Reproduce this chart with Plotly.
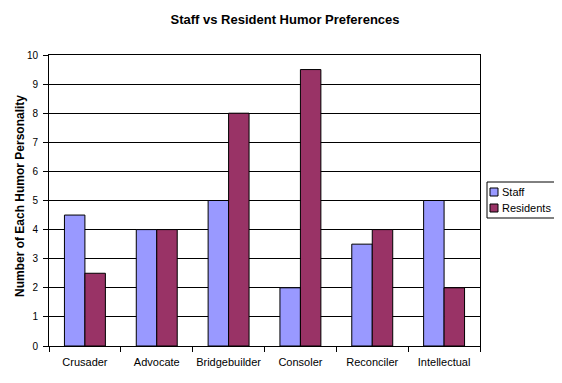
import plotly.graph_objects as go

categories = ["Crusader", "Advocate", "Bridgebuilder", "Consoler", "Reconciler", "Intellectual"]
staff = [4.5, 4, 5, 2, 3.5, 5]
residents = [2.5, 4, 8, 9.5, 4, 2]
series_names = ["Staff", "Residents"]
y_ticks = list(range(0, 11))

STAFF_COLOR = "#9999FF"
RES_COLOR = "#993366"
font = "Liberation Sans, Arial, sans-serif"

# page has an 8px body offset; figure sized to fit the visible window
OFF = 8
W, H = 562 - OFF, 383 - OFF
L, R_EDGE, T, B_EDGE = 49 - OFF, 480 - OFF, 55 - OFF, 346 - OFF
PW, PH = R_EDGE - L, B_EDGE - T


def px_x(x):
    return (x - OFF - L) / PW


def px_y(y):
    return (B_EDGE - (y - OFF)) / PH


fig = go.Figure()
fig.add_trace(go.Bar(x=categories, y=staff, name=series_names[0],
                     marker=dict(color=STAFF_COLOR, line=dict(color="black", width=1))))
fig.add_trace(go.Bar(x=categories, y=residents, name=series_names[1],
                     marker=dict(color=RES_COLOR, line=dict(color="black", width=1))))

# legend box (drawn as decoration)
shapes = [dict(type="rect", xref="paper", yref="paper",
               x0=px_x(487), x1=px_x(556), y0=px_y(218), y1=px_y(182),
               line=dict(color="black", width=1), fillcolor="white", layer="above")]
annotations = []
for i, (name, col) in enumerate(zip(series_names, [STAFF_COLOR, RES_COLOR])):
    cy = 192 + i * 16
    shapes.append(dict(type="rect", xref="paper", yref="paper",
                       x0=px_x(490), x1=px_x(498), y0=px_y(cy + 4), y1=px_y(cy - 4),
                       line=dict(color="black", width=1), fillcolor=col, layer="above"))
    annotations.append(dict(text=name, xref="paper", yref="paper",
                            x=px_x(500), y=px_y(cy), xanchor="left", yanchor="middle",
                            showarrow=False, font=dict(size=11, family=font)))

# y-axis title
annotations.append(dict(text="<b>Number of Each Humor Personality</b>", xref="paper",
                        yref="paper", x=px_x(20), y=px_y(196), xanchor="center",
                        yanchor="middle", textangle=-90, showarrow=False,
                        font=dict(size=12, family=font)))

fig.update_layout(
    width=W, height=H,
    margin=dict(l=L, r=W - R_EDGE, t=T, b=H - B_EDGE, autoexpand=False),
    paper_bgcolor="white", plot_bgcolor="white",
    font=dict(family=font, size=10, color="black"),
    title=dict(text="<b>Staff vs Resident Humor Preferences</b>", x=0.5, xanchor="center",
               xref="container", y=1 - 11 / H, yanchor="middle",
               font=dict(size=13, family=font)),
    bargap=0.43, bargroupgap=0,
    showlegend=False,
    shapes=shapes,
    annotations=annotations,
    xaxis=dict(showline=True, linecolor="black", linewidth=1, mirror=True,
               ticks="outside", tickson="boundaries", ticklen=5, tickcolor="black",
               tickangle=0, tickfont=dict(size=11), showgrid=False,
               ticklabelstandoff=6),
    yaxis=dict(range=[0, 10], tickvals=y_ticks, showline=True, linecolor="black",
               linewidth=1, mirror=True, ticks="outside", ticklen=5, tickcolor="black",
               showgrid=True, gridcolor="black", gridwidth=1, zeroline=False,
               tickfont=dict(size=10), ticklabelstandoff=3),
)

fig.write_html("out.html")
